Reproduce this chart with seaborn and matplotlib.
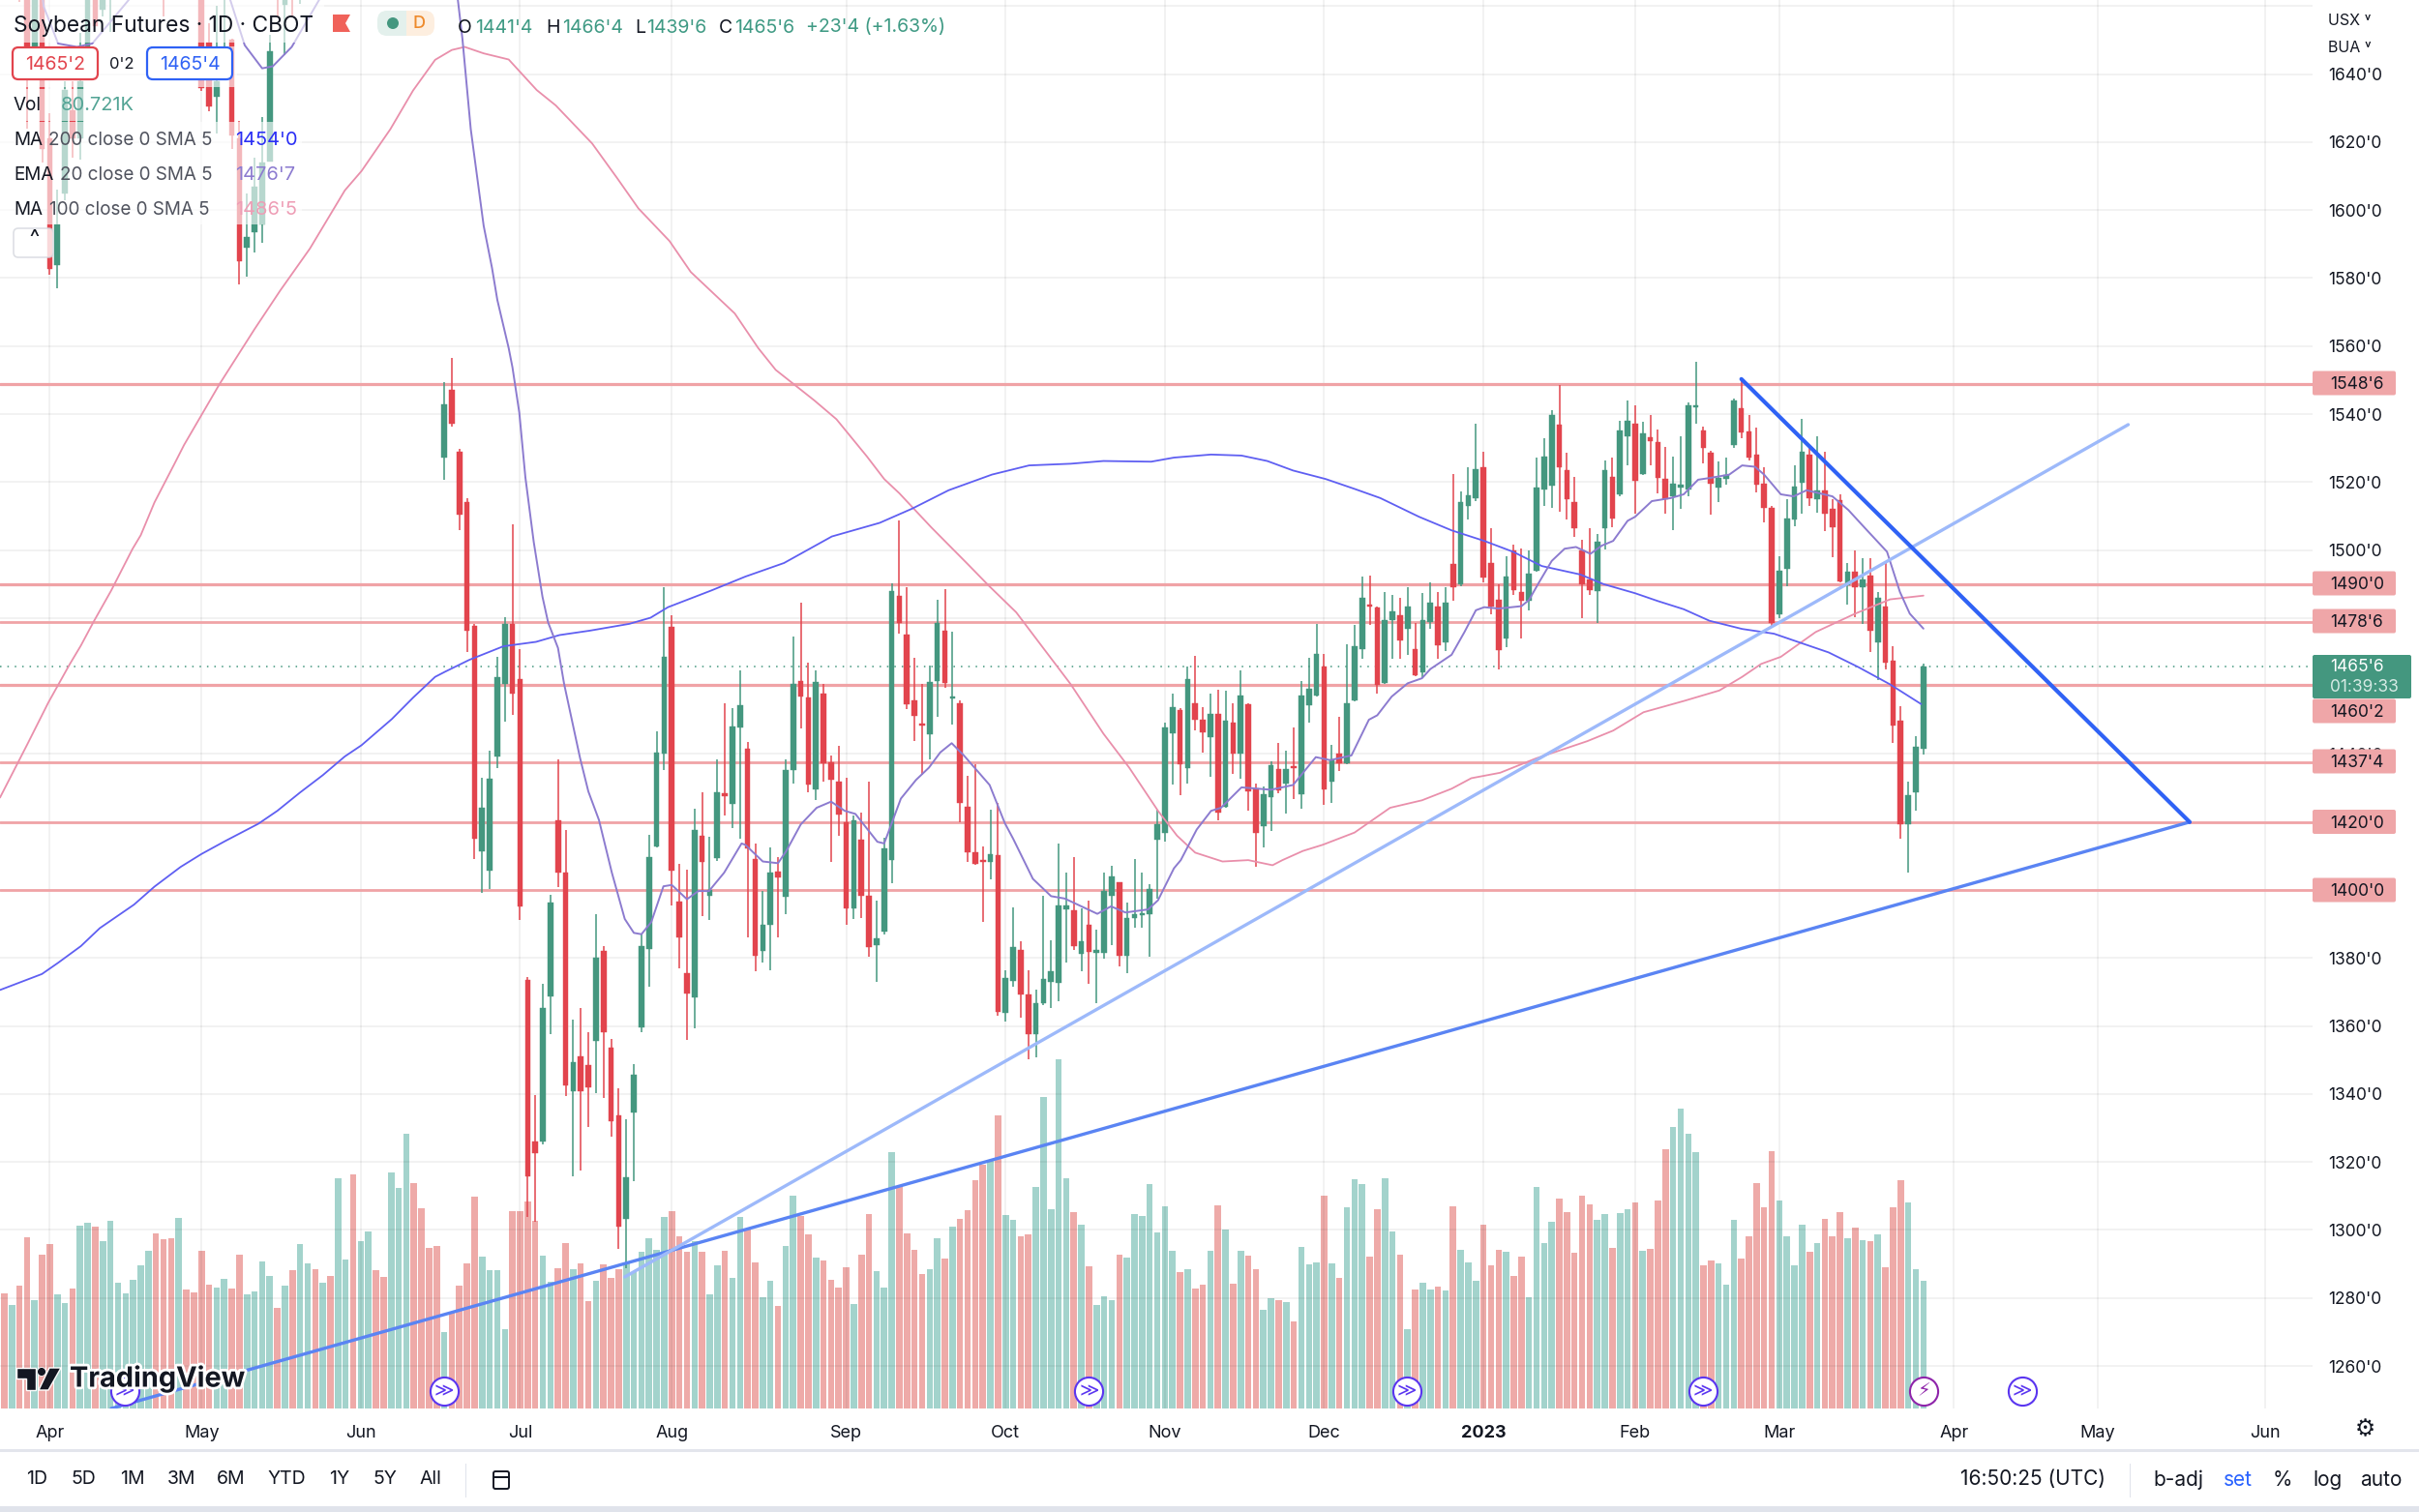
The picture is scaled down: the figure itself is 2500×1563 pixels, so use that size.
import numpy as np
import pandas as pd
import matplotlib
matplotlib.use("Agg")
import matplotlib.pyplot as plt
from matplotlib.patches import Rectangle, FancyBboxPatch, Polygon, Circle
from matplotlib.transforms import IdentityTransform
import matplotlib.patheffects as pe
import seaborn as sns

opens = [1682,1668,1684,1668,1648,1664,1621,1583.8,1604.9,1629.5,
1621,1647.5,1672,1659,1662,1672,1684,1695,1708,1720,
1732,1704,1690,1680,1698,1690,1672,1649.4,1633.3,1662,
1650,1621,1588.9,1593.5,1595.7,1614.3,1675,1660.3,1680,1668,
1680,1705,1695,1716,1706,1738,1755,1730,1752,1772,
1756,1742,1762,1770,1776,1735,1695,1672,1527.1,1547,
1528.9,1514,1477.7,1411.3,1405.7,1439.2,1460.6,1478.3,1462.1,1373.6,
1326,1325.9,1368.7,1420.6,1405,1340.7,1351.2,1348.5,1355.6,1382.1,
1353.6,1333.8,1303.2,1334.7,1359.6,1382.8,1412.9,1440.1,1477.3,1396.6,
1375.6,1368.5,1416,1398.2,1409.5,1428.5,1425.3,1447.8,1441.6,1409.1,
1382.1,1389.7,1405.5,1397.9,1435.3,1461.5,1456.7,1429.6,1457.8,1437.6,
1431.8,1420,1394.6,1414.8,1398.4,1383.7,1387.7,1408.9,1486.4,1475,
1455.9,1449,1445.8,1461.5,1476.4,1456.3,1455,1424.6,1411.1,1408.9,
1408.2,1410.2,1363.8,1373.4,1382.5,1369.4,1357.6,1366.7,1373,1372.8,
1394.2,1393.9,1381.2,1389.7,1381.6,1381.6,1398.4,1402.4,1380.8,1391.7,
1392.6,1392.8,1414.8,1416.8,1446,1453,1436,1455,1450.1,1444.9,
1451.8,1424.6,1449.2,1440,1454.7,1429.8,1418.7,1427.3,1435.6,1431.3,
1436.5,1428.2,1454.5,1457.2,1465.7,1431.8,1440.1,1437.2,1455.9,1471,
1484,1483.1,1461,1479.3,1480.8,1476.8,1470.8,1463.9,1478.8,1483.5,
1473,1495.9,1489.9,1512.9,1515.4,1524.3,1496.2,1485.5,1474.1,1499.8,
1487.7,1485,1493.9,1517.8,1518.9,1537,1523.4,1514,1499.8,1491.3,
1488,1506.4,1521.6,1516.4,1533.4,1537.2,1522.5,1533.2,1531.8,1520.9,
1515.8,1518.4,1517.8,1541.9,1535.2,1528.7,1518.4,1520.9,1531,1541.8,
1534.9,1528,1519.4,1512.5,1481,1494.4,1509.1,1519.8,1528,1514.9,
1517.6,1512.2,1514.7,1489.7,1493.7,1489.1,1492.6,1473,1483.5,1467.5,
1449.8,1419.3,1428.7,1441.5]

closes = [1670,1680,1670,1648,1668,1618,1582.6,1595.7,1635.2,1621,
1638,1668,1654.2,1670,1672,1684,1695,1708,1720,1732,
1704,1672,1680,1698,1685,1675,1636,1630.5,1638,1675,
1622,1585.1,1592.2,1606.8,1613.9,1646.6,1668,1675,1670,1685,
1705,1695,1716,1706,1738,1755,1730,1752,1772,1756,
1742,1762,1770,1776,1735,1695,1672,1668,1543,1537.2,
1510.4,1476.3,1415.1,1424.2,1432.7,1462.7,1478.3,1457.8,1395.2,1315.7,
1322.6,1365.4,1396.4,1405,1342.5,1349.3,1340.7,1342,1380.1,1358.2,
1332,1301,1315.5,1345.8,1383.5,1409.7,1440.3,1468.5,1405.7,1386.1,
1369.6,1417.7,1408.4,1400,1428.7,1427.5,1448.1,1454.3,1412.2,1380.7,
1389.7,1405,1403.7,1435.3,1460.6,1456.9,1431.1,1461.2,1437.4,1432.4,
1422.2,1394.6,1420.6,1398.4,1383.2,1385.9,1412.2,1488,1478.6,1454.7,
1451.2,1448.3,1461.2,1478.6,1460.8,1456.9,1425.5,1411.1,1407.7,1408.4,
1410.6,1364.3,1374,1383.2,1369.4,1357.6,1366.7,1373.8,1376.1,1395.5,
1395.5,1383.4,1385,1381.9,1382.5,1399.7,1404,1380.7,1391.9,1392.8,
1393.2,1400.2,1419.5,1447.8,1453.8,1436.9,1462.1,1450.1,1446.3,1451.9,
1422.9,1449.8,1440.1,1457.2,1429.1,1416.8,1428.2,1436.7,1429.4,1435.6,
1436,1457.2,1459.2,1469.5,1429.6,1438.3,1437.4,1455,1471.7,1486,
1483.5,1460.3,1479.5,1482,1473.5,1483.5,1463.2,1479.5,1484.6,1471.9,
1484.6,1489,1514,1516.2,1523.8,1491.8,1483.5,1470.6,1492.2,1488.2,
1485,1493,1518.4,1527.6,1539.8,1524.5,1514.9,1506.4,1490,1488.2,
1502.4,1523.4,1509.3,1535.2,1538,1520.3,1534.3,1532,1521.1,1514.9,
1519.4,1519.1,1542.7,1542.7,1530,1519.4,1521.2,1522.2,1543.9,1534.7,
1527.1,1519.2,1512.5,1478.6,1494,1509.3,1518.7,1528.9,1515.4,1517.6,
1510.7,1506.7,1490.8,1493.7,1489.1,1491.3,1476.3,1485.9,1466.8,1448.3,
1419.3,1428,1442.1,1465.75]

highs = [1686,1684,1690,1672,1672,1668,1628.6,1606,1638,1638,
1652,1672,1676,1678,1680,1690,1700,1712,1725,1738,
1738,1710,1700,1705,1705,1696,1680,1655,1660,1680,
1650.4,1626.2,1604.9,1615.3,1627.4,1651.5,1680,1682,1685,1690,
1712,1712,1722,1722,1745,1762,1768,1760,1780,1784,
1762,1770,1778,1784,1780,1740,1700,1678,1549.4,1556.6,
1529.8,1515.3,1478.4,1432.9,1441,1468.6,1480.4,1507.6,1470.8,1374.3,
1339.8,1372.5,1398.6,1438.3,1417.8,1362,1365.4,1358.3,1392.8,1383.4,
1356.2,1341.6,1332.6,1348.9,1387,1416.2,1446.7,1489,1480.8,1407.7,
1406,1423.8,1428.7,1415.7,1438.3,1454.9,1453.6,1464.6,1443.6,1413.6,
1399.7,1412.6,1409.7,1438.3,1474.6,1484.6,1466.8,1464.6,1460.6,1439.6,
1442.3,1432.9,1422,1422.7,1432,1397,1415.5,1490.2,1508.6,1489.1,
1468.3,1460.5,1465.9,1485.3,1488.6,1475.9,1455.9,1433.6,1437.1,1412.8,
1423.6,1425.5,1376.5,1394.8,1384.8,1376.5,1370.7,1398.4,1385.2,1413.6,
1405.1,1409.7,1394.6,1397,1388.4,1405,1407,1402.4,1396.4,1409.1,
1405,1401.7,1423.6,1449.2,1457.8,1453.6,1465.7,1468.8,1453.8,1457.8,
1459,1458.7,1455,1464.6,1455,1431.4,1430.5,1437.8,1443.2,1440.9,
1447.8,1461.4,1468.3,1478.3,1469.5,1442.7,1450.9,1472.3,1478.1,1492.2,
1492.6,1483.5,1487.7,1486.8,1485.9,1489,1478.6,1487.3,1490.4,1487.7,
1489,1522.5,1517.3,1524.3,1537.2,1529,1506.4,1490,1498.2,1501.7,
1500.4,1499.8,1527.1,1533,1541.2,1548.5,1528.5,1521.6,1503.1,1506.4,
1504.6,1526.3,1527.1,1538,1543.9,1542.7,1537.6,1539.8,1535.4,1530.3,
1527.6,1533.6,1543.4,1555.4,1536.3,1529.2,1526.1,1527.1,1544.5,1550.3,
1539.8,1536.1,1524.5,1513.1,1498.2,1514.9,1524.9,1538.5,1530.7,1533.6,
1528.9,1514.9,1516.4,1496.2,1499.8,1497.7,1497.7,1487.7,1496.8,1471.7,
1454.1,1431.8,1445.4,1466.5]

lows = [1664,1664,1661.3,1624,1646,1614,1581,1576.9,1603,1615.3,
1614.8,1647,1654,1657,1652.3,1668,1680,1690,1702,1714,
1700,1657,1668,1672,1680,1665,1635,1629,1622.4,1646,
1618.1,1578.1,1580.5,1587.6,1590.4,1614.3,1657,1645.6,1657,1660.8,
1672,1690,1690,1700,1700,1730,1725,1722,1745,1750,
1735,1735,1755,1760,1730,1690,1668,1664,1520.7,1536.3,
1505.8,1470.1,1409.1,1399.3,1400.2,1436,1449.6,1451.6,1391.2,1303.9,
1302.4,1325.3,1357.6,1400.8,1339.3,1315.7,1317.5,1330.2,1340.4,1338.9,
1327.5,1294.5,1288.7,1314.4,1358.2,1371.6,1412.4,1435.4,1395.5,1377,
1355.8,1359.2,1392.4,1391.2,1408.6,1421.8,1418.2,1415.1,1386.1,1376.1,
1378.8,1376.5,1386.1,1393,1431.3,1447.6,1428.7,1426.4,1431.8,1408.2,
1416,1389.9,1391.5,1391.9,1380.5,1372.9,1387,1402.1,1475.5,1453.2,
1443.8,1433.8,1438.3,1450.9,1459.6,1448.7,1420,1408.2,1407.3,1390.6,
1403.1,1363,1361.2,1371.6,1362.5,1350.2,1350.7,1366.1,1365.2,1367.4,
1378.8,1382.5,1376.1,1372.5,1366.7,1379.7,1383.7,1377.6,1375.6,1388.8,
1388.8,1380.3,1397.5,1414.2,1431.1,1427.8,1431.4,1446.9,1440.5,1433.3,
1420.4,1424.2,1434.2,1432.7,1423.3,1406.8,1412.4,1417.5,1428.4,1422.4,
1426.9,1423.8,1449.2,1456.9,1425.1,1425.5,1435.1,1436.9,1455.6,1468.1,
1478.1,1457.8,1460.5,1468.1,1468.1,1469.2,1462.8,1462.3,1476.8,1468.1,
1470.4,1485,1489.5,1508.9,1514.4,1490.4,1481,1465,1471.4,1486.8,
1474.1,1482.2,1493.5,1513.1,1512.5,1511.3,1508.9,1504,1479.9,1486.8,
1478.6,1500.2,1506.7,1515.8,1524.9,1510.7,1522.2,1524.9,1516.7,1510.7,
1505.8,1512.2,1515.8,1537.2,1525.4,1510.4,1514,1519.1,1530,1533,
1526.3,1516.9,1508.2,1477.7,1480.1,1489.5,1507.1,1510.7,1512.9,1510.9,
1505.6,1498,1490.4,1484.1,1480.2,1478.4,1470.1,1461.9,1465,1443.2,
1415.1,1405.1,1423.3,1439.75]

volumes = [72.9,65.2,77.4,107.9,68.4,96.9,103.9,71.9,66.8,75.5,
115.7,117.3,114.7,105.5,118.7,79.4,72.9,81.6,90.6,99.4,
110.6,106.9,107.5,120.6,75.3,73.3,99.8,78.4,76.6,82.1,
75.7,96.9,71.9,73.9,92.7,83.7,63.7,77.4,87.2,103.9,
91.6,88,79.4,83.5,145.2,94.3,147.9,105.5,112,87.6,
83.1,148.9,139.5,173.5,142.2,126.3,101.4,102.4,48,60.3,
77.4,91.6,133.6,96.1,87.2,87.2,50,124.6,125,130.8,
118.3,96.5,80,88.7,104.7,87.9,91.8,68,80.9,91,
82.4,87.9,92.6,86,99.2,107.8,100.4,121,125,108.6,
98.8,105.5,98.8,72.3,90.2,99.6,82.8,121,113.3,92.6,
70.4,80.9,64.5,102.7,134.7,121.8,110.1,95.3,93.8,81.3,
76.6,89.1,66.1,97.3,123,87.1,76.6,162,140.6,110.5,
100.4,84.8,87.9,107.4,94.9,114.8,119.9,125.3,144.5,154.2,
157,185.4,122.2,119.5,108.6,110.1,140.2,197.1,126.1,220.5,
145.6,123.8,116.4,89.9,65.3,70.7,68.4,97.3,95.3,123,
121.4,141.7,111.3,127.7,99.6,86,88.3,75.8,78.2,99.6,
128.5,113.3,79,99.6,96.5,87.9,62.5,69.6,68.4,67.2,
55,102,91,92.6,134.3,91.8,82.4,126.9,144.8,141.7,
96.1,126.1,145.6,112.1,97.3,50,75,79.3,75,77,
74.3,127.7,100.4,92.6,80.9,116,90.2,100.4,98.8,83.6,
96.1,70,139.8,104.7,117.9,132.8,124.2,98.4,134.7,129.2,
119.1,123,101.2,123.4,126.1,130,99.6,100.8,131.2,163.9,
177.6,189.3,173.7,162,90.6,93.8,91.8,78.2,119.1,94.9,
108.6,142.5,126.9,162.8,131.6,108.6,90.6,116.4,99.2,104.7,
119.9,109,124.2,107.4,114.4,106.6,105.8,110.1,89.1,126.9,
144.5,130,87.9,80.7]

ema_bar = [3,5.2,7.1,9.6,11.6,16.4,20,26,29.8,31.7,34,35.4,37.9,41.5,48,54,59.8,60.4,61.5,63.2,64.3,65,65.8,66.5,67,67.9,68.7,69.8,70.95,71.7,73,73.8,75.9,77,78.4,80.1,81.8,83,84,85.3,86.9,88,90,91.5,92.9,94.9,97.2,97.7,100,102,103.1,105,107.1,109,110.8,112.2,115.1,116,117,118.2,120.2,121.9,123.4,124.9,126.5,129.9,131.9,133,135.6,138,139.8,144.1,145.9,147.8,150.8,152.1,154.2,155.1,157.2,159.1,160.4,163.1,167,169.9,172.9,174.8,177.6,179.9,181,182.9,185,186.9,188,190.8,192.5,194,195.1,197,200,201,202.3,204,205.7,207.2,209.1,210.6,212.1,214,215,217.2,219.7,221.4,223.3,224.8,227.4,229.1,230.8,232,234.2,235.9,237.6,241,243.1,245.2,248.2,249.9,251.2,253]
ema_val = [1700,1659.9,1649,1648,1649,1661.8,1690,1680,1661.8,1648.5,1641.7,1642.3,1648,1661.8,1720,1710,1661.8,1650.4,1623.8,1595.4,1583,1573.6,1566,1559.4,1553.7,1540.4,1521.4,1502.4,1486.3,1478.7,1471.2,1460.7,1438.9,1429,1420.6,1405.1,1391.5,1387.4,1387,1390.6,1401.1,1401.5,1397.3,1399.7,1399.7,1405.1,1413.7,1413.3,1408.4,1407.9,1411.5,1419.3,1424.2,1426,1423.3,1422.4,1414.2,1413.7,1419.7,1426.9,1432.4,1436,1440.5,1443.2,1439.6,1430.9,1419.7,1415.1,1403.3,1398.2,1397.5,1393,1395.2,1393.4,1394.3,1397,1406.4,1408.8,1417.8,1423.3,1424.2,1430.2,1429.5,1430.9,1439.1,1438.2,1439.6,1450.1,1451.4,1456.9,1460.8,1462.3,1465,1469.2,1475.9,1482.3,1483.2,1482.8,1483.5,1485.3,1490.4,1496.8,1500.4,1500.9,1498.9,1501.3,1502.7,1508.6,1509.8,1514.4,1515.3,1516.4,1520.7,1521.2,1522.2,1524.9,1524.5,1522.2,1516.4,1515.8,1517.6,1515.8,1511.8,1506.7,1499.5,1487.7,1481.3,1476.9]

ma200_bar = [-0.56,4.97,7.1,10.1,12.6,17.1,19.8,23.25,26,29.2,33.5,36,39,42,44.9,47.1,51.1,53.9,56.8,58.1,61.3,65.8,70.1,73.2,77.2,82.4,85.2,87.5,93.2,97.7,102.8,109.1,115.4,119.7,124.5,130.2,135.1,140.6,144.9,151.2,154.2,159.1,163.1,166.5,169.9,174.2,178,181.4,186.5,190.8,195.1,198.9,202.7,207.8,210.8,215,218,221.4,224.8,229.1,233.3,236.7,240.5,244.4,248.6,252.7]
ma200_val = [1370.6,1375.3,1378.6,1383.5,1388.8,1395.7,1401,1406.8,1410.6,1414.5,1419.5,1423.3,1428.7,1433.8,1439.3,1442.6,1450.3,1456.6,1462.7,1464.2,1467.7,1471.7,1473,1475,1476.3,1478.3,1480.1,1483.2,1488.1,1492.2,1496.2,1504,1508,1512.2,1517.6,1522.2,1524.9,1525.4,1526.2,1526,1527.2,1528.1,1527.8,1526.2,1523.4,1520.9,1518,1515.3,1509.8,1505.8,1502.7,1499.5,1495.3,1492.8,1490,1487.3,1485,1482.6,1479.2,1476.8,1475.4,1472.8,1469.9,1465.6,1460.5,1454.7]

ma100_bar = [-0.56,3.05,5.8,8.6,10.1,11.8,14.1,16.9,18,19.8,22.4,23.7,28.4,33,36.4,40.3,44.9,47.1,50.9,53.9,56.8,59,60.7,63.2,66.5,70.2,72.7,77.5,80.8,83.6,87.7,90.5,96.3,99.4,101.7,106.8,109.7,113.7,116,118,122.2,127,129.8,133.4,137.2,140.6,144.9,148.3,152.1,154.6,157,160.6,164,167.2,168.5,171.2,173.8,178,182.7,186.9,190.8,193.4,197.2,201.9,208.7,212.1,216.1,221.4,226.1,229.1,231.6,234.2,238.8,244,248.6,253]
ma100_val = [1427.2,1442.9,1455.1,1466.3,1471.9,1479,1488.1,1500.3,1504.4,1514,1525.2,1530.9,1548.9,1565,1576.4,1588.7,1605.8,1611.5,1623.8,1635.2,1644.2,1647.1,1648,1646.1,1644.3,1635.3,1630.8,1619.6,1609.4,1600.5,1590.9,1581.8,1569.6,1559.4,1553,1544,1538.5,1527.6,1520.9,1516.7,1506.7,1495.9,1489.5,1481.7,1470.5,1460.5,1446,1436,1423.3,1416,1411,1408.4,1408.8,1407.3,1408.8,1411.5,1413.3,1416.9,1424.2,1426.4,1429.8,1432.9,1434.5,1438.7,1443.8,1446.9,1452.3,1455.6,1458.7,1462.7,1466.5,1468.6,1475.9,1481.3,1485.5,1486.6]

levels = [1548.75,1490,1478.75,1460.25,1437.5,1420,1400]
level_labels = ["1548'6","1490'0","1478'6","1460'2","1437'4","1420'0","1400'0"]
level_label_y = [396,603,642,735,787,849.5,920]
price_ticks = list(range(1260,1661,20))
hidden_price_labels = [1400,1420,1460,1480,1660]
month_bars = [6,26,47,68,88,111,132,153,174,195,215,234,257,276,298]
month_labels = ["Apr","May","Jun","Jul","Aug","Sep","Oct","Nov","Dec","2023","Feb","Mar","Apr","May","Jun"]
rise_bar = [14.1,288.1]; rise_val = [1247.5,1420]
light_bar = [81.8,280]; light_val = [1286.2,1536.9]
fall_bar = [229,288.1]; fall_val = [1550.3,1420]
split_bars = [15.9,58,143,184.9,223.9,266]
earning_bar = [253]
last_price = 1465.75

W, H = 2500, 1563
GREEN, RED = "#44977F", "#E2444D"
VG, VR = "#A3D3CC", "#EEAAA8"
HL = "#F0A3A6"

sns.set_theme(style="white")
plt.rcParams['font.family'] = ['Inter', 'DejaVu Sans']
fig = plt.figure(figsize=(25, 15.63), dpi=100, facecolor="white")
rect = [0, 1 - 1456 / H, 2390 / W, 1456 / H]
ax_vol = fig.add_axes(rect, zorder=1, facecolor="white")
ax = fig.add_axes(rect, zorder=2, facecolor="none")

x = np.arange(len(closes))
o, h, l, c = map(np.array, (opens, highs, lows, closes))
up = c >= o
df = pd.DataFrame({"bar": x, "vol": volumes, "dir": np.where(up, "up", "down")})
sns.barplot(data=df, x="bar", y="vol", hue="dir", palette={"up": VG, "down": VR},
            native_scale=True, dodge=False, width=0.84, saturation=1, errorbar=None,
            legend=False, linewidth=0, ax=ax_vol)
XL = (-0.56, 304.3)
ax_vol.set_xlim(*XL); ax_vol.set_ylim(0, 890)
ax_vol.axis("off")

colors = np.where(up, GREEN, RED)
for lv, lw_ in zip(levels, [2.3, 2.3, 2.0, 2.3, 2.0, 2.0, 2.0]):
    ax.axhline(lv, color=HL, lw=lw_, zorder=2)
ax.axhline(last_price, color=GREEN, lw=1.1, ls=(0, (1, 4)), zorder=2)
ax.vlines(x, l, h, colors=colors, lw=1.1, zorder=3)
ax.bar(x, np.maximum(np.abs(c - o), 0.5), bottom=np.minimum(o, c), width=0.72,
       color=colors, edgecolor=colors, linewidth=0.3, zorder=3)

sns.lineplot(x=ma100_bar, y=ma100_val, color="#E98FAB", lw=1.3, estimator=None, sort=False, ax=ax, zorder=4)
sns.lineplot(x=ma200_bar, y=ma200_val, color="#5F5FF2", lw=1.3, estimator=None, sort=False, ax=ax, zorder=4)
sns.lineplot(x=ema_bar, y=ema_val, color="#8C7BCF", lw=1.4, estimator=None, sort=False, ax=ax, zorder=4)
sns.lineplot(x=rise_bar, y=rise_val, color="#5A84F3", lw=2.4, estimator=None, sort=False, ax=ax, zorder=5)
sns.lineplot(x=light_bar, y=light_val, color="#9DB9FA", lw=2.4, estimator=None, sort=False, ax=ax, zorder=5)
sns.lineplot(x=fall_bar, y=fall_val, color="#2F62F5", lw=3.0, estimator=None, sort=False, ax=ax, zorder=5)

marker_y = 1252.7
ax.scatter(split_bars, [marker_y] * len(split_bars), s=440, facecolor="white", edgecolor="#5A35F0", lw=1.5, zorder=6)
ax.scatter(earning_bar, [marker_y], s=440, facecolor="white", edgecolor="#8E24AA", lw=1.5, zorder=6)
for b in split_bars:
    ax.text(b, marker_y, "\u226b", color="#5A35F0", fontsize=14, ha="center", va="center", zorder=7, family=["DejaVu Sans"])
ax.text(earning_bar[0], marker_y, "\u26a1", color="#8E24AA", fontsize=14, ha="center", va="center", zorder=7, family=["DejaVu Sans"])

ax.set_xlim(*XL)
ax.set_ylim(1247.5, 1661.8)
ax.set_xlabel(""); ax.set_ylabel("")
ax.set_xticks(month_bars)
ax.set_xticklabels(month_labels)
ax.set_yticks(price_ticks)
ax.set_yticklabels(["" if p in hidden_price_labels else f"{p}'0" for p in price_ticks])
ax.yaxis.tick_right()
ax.tick_params(axis="y", length=0, pad=12, labelsize=12.5, labelcolor="#131722")
ax.tick_params(axis="x", length=0, pad=12.5, labelsize=13, labelcolor="#131722")
for t in ax.get_xticklabels():
    if t.get_text() == "2023":
        t.set_fontweight("bold")
ax.grid(True, color="#000000", alpha=0.05, lw=1.4)
ax.set_axisbelow(True)
for s in ax.spines.values():
    s.set_visible(False)

# --- page furniture, placed in pixels ---
def T(px, py, s, color="#131722", size=13, ha="left", weight="normal", **kw):
    return fig.text(px / W, 1 - (py + 1.5) / H, s, color=color, fontsize=size, ha=ha, va="center", fontweight=weight, zorder=10, **kw)

def R(x0, y0, x1, y1, fc, alpha=1, z=5, ec="none", lw=0, round_=0):
    if round_:
        p = FancyBboxPatch((x0, H - y1), x1 - x0, y1 - y0, boxstyle=f"round,pad=0,rounding_size={round_}",
                           fc=fc, ec=ec, lw=lw, alpha=alpha, zorder=z, transform=IdentityTransform())
    else:
        p = Rectangle((x0, H - y1), x1 - x0, y1 - y0, fc=fc, ec=ec, lw=lw, alpha=alpha, zorder=z, transform=IdentityTransform())
    fig.add_artist(p)
    return p

# translucent legend backing
R(0, 0, 335, 44, "white", .62)
R(0, 48, 245, 90, "white", .62)
R(0, 92, 145, 125, "white", .62)
R(0, 126, 312, 232, "white", .62)

T(14, 26, "Soybean Futures \u00b7 1D \u00b7 CBOT", size=16.4)
fig.add_artist(Polygon([(344, H-15), (362, H-15), (357, H-24), (362, H-33), (344, H-33)], closed=True, fc="#F0625A", ec="none", zorder=6, transform=IdentityTransform()))
R(390, 11, 420, 37, "#E3F0EC", round_=10)
R(420, 11, 449, 37, "#FDEEDF", round_=10)
R(410, 11, 420, 37, "#E3F0EC")
R(420, 11, 430, 37, "#FDEEDF")
fig.add_artist(Circle((406, H-24), 6, fc="#44977F", ec="none", zorder=6, transform=IdentityTransform()))
T(433, 23, "D", color="#EE8A2C", size=13, ha="center", weight="medium")

TG = "#3F9A84"
for px, s, col in [(473, "O", "#131722"), (491, "1441'4", TG), (564, "H", "#131722"), (581, "1466'4", TG),
                   (656, "L", "#131722"), (668, "1439'6", TG), (743, "C", "#131722"), (759, "1465'6", TG),
                   (833, "+23'4 (+1.63%)", TG)]:
    T(px, 27, s, color=col, size=14)

R(13, 49, 101, 82, "white", ec="#E2444D", lw=1.6, round_=6, z=6)
T(57, 65, "1465'2", color="#E2444D", size=14, ha="center")
T(126, 65, "0'2", size=12, ha="center")
R(152, 49, 240, 82, "white", ec="#2F62F5", lw=1.6, round_=6, z=6)
T(196, 65, "1465'4", color="#2F62F5", size=14, ha="center")

T(14, 108, "Vol", size=13.6)
T(63, 108, "80.721K", color="#53A495", size=14.4)
GR = "#50535E"
for py, name, nx, rest, val, vc in [(144, "MA", 50, "200 close 0 SMA 5", "1454'0", "#2A2EF5"),
                                    (180, "EMA", 62, "20 close 0 SMA 5", "1476'7", "#8C7BD0"),
                                    (215, "MA", 51, "100 close 0 SMA 5", "1486'5", "#EE9DB5")]:
    T(14, py, name, size=13.6)
    T(nx, py, rest, color=GR, size=13.6)
    T(243, py, val, color=vc, size=14.4)
R(14, 236, 55, 266, "white", alpha=.8, ec="#D5D7DE", lw=1.2, round_=5, z=6)
T(35, 250, "\u02c4", size=20, ha="center", family=["DejaVu Sans"])

T(2406, 20, "USX \u02c5", size=11.5)
T(2406, 48, "BUA \u02c5", size=11.5)

# right-hand price labels
for yy, s in zip(level_label_y, level_labels):
    R(2390, yy - 12.5, 2476, yy + 12.5, "#EFA6A8", round_=2, z=6)
    T(2436, yy, s, size=12.5, ha="center")
R(2390, 677, 2492, 722, "#44977F", round_=2, z=7)
T(2436, 688, "1465'6", color="white", size=12.5, ha="center")
T(2443, 709, "01:39:33", color="#D5EAE4", size=12.5, ha="center")

# TradingView logo
halo = [pe.withStroke(linewidth=4, foreground="white")]
T(72, 1424, "TradingView", size=20.8, weight="bold", path_effects=halo)
dark = "#131722"
fig.add_artist(Polygon([(17, H-1414), (37, H-1414), (37, H-1437), (27, H-1437), (27, H-1425), (17, H-1425)], closed=True, fc=dark, ec="white", lw=1, zorder=8, transform=IdentityTransform()))
fig.add_artist(Circle((43, H-1418), 4.5, fc=dark, ec="white", lw=.6, zorder=8, transform=IdentityTransform()))
fig.add_artist(Polygon([(51, H-1414), (63, H-1414), (50, H-1437), (40, H-1437)], closed=True, fc=dark, ec="white", lw=1, zorder=8, transform=IdentityTransform()))

# separators and toolbar
T(2444, 1476, "\u2699", size=17, ha="center", family=["DejaVu Sans"])
R(0, 1498, W, 1501, "#E3E5EC")
R(0, 1557, W, H, "#E0E3EB")
for px, s in [(38, "1D"), (86, "5D"), (137, "1M"), (188, "3M"), (239, "6M"), (296, "YTD"), (351, "1Y"), (398, "5Y"), (445, "All")]:
    T(px, 1528, s, size=14, ha="center")
R(481, 1513, 482, 1548, "#E0E3EB")
# calendar icon (no installed family has this glyph)
R(510, 1521, 526, 1539, "none", ec="#131722", lw=1.4, round_=2, z=6)
R(510, 1526, 526, 1527.5, "#131722", z=6)
T(2101, 1528, "16:50:25 (UTC)", size=15, ha="center")
R(2201, 1513, 2202, 1548, "#E0E3EB")
for px, s, col in [(2251, "b-adj", "#131722"), (2313, "set", "#2962FF"), (2359, "%", "#131722"), (2405, "log", "#131722"), (2461, "auto", "#131722")]:
    T(px, 1528, s, color=col, size=15, ha="center")

fig.savefig("out.png", dpi=100, facecolor="white")
